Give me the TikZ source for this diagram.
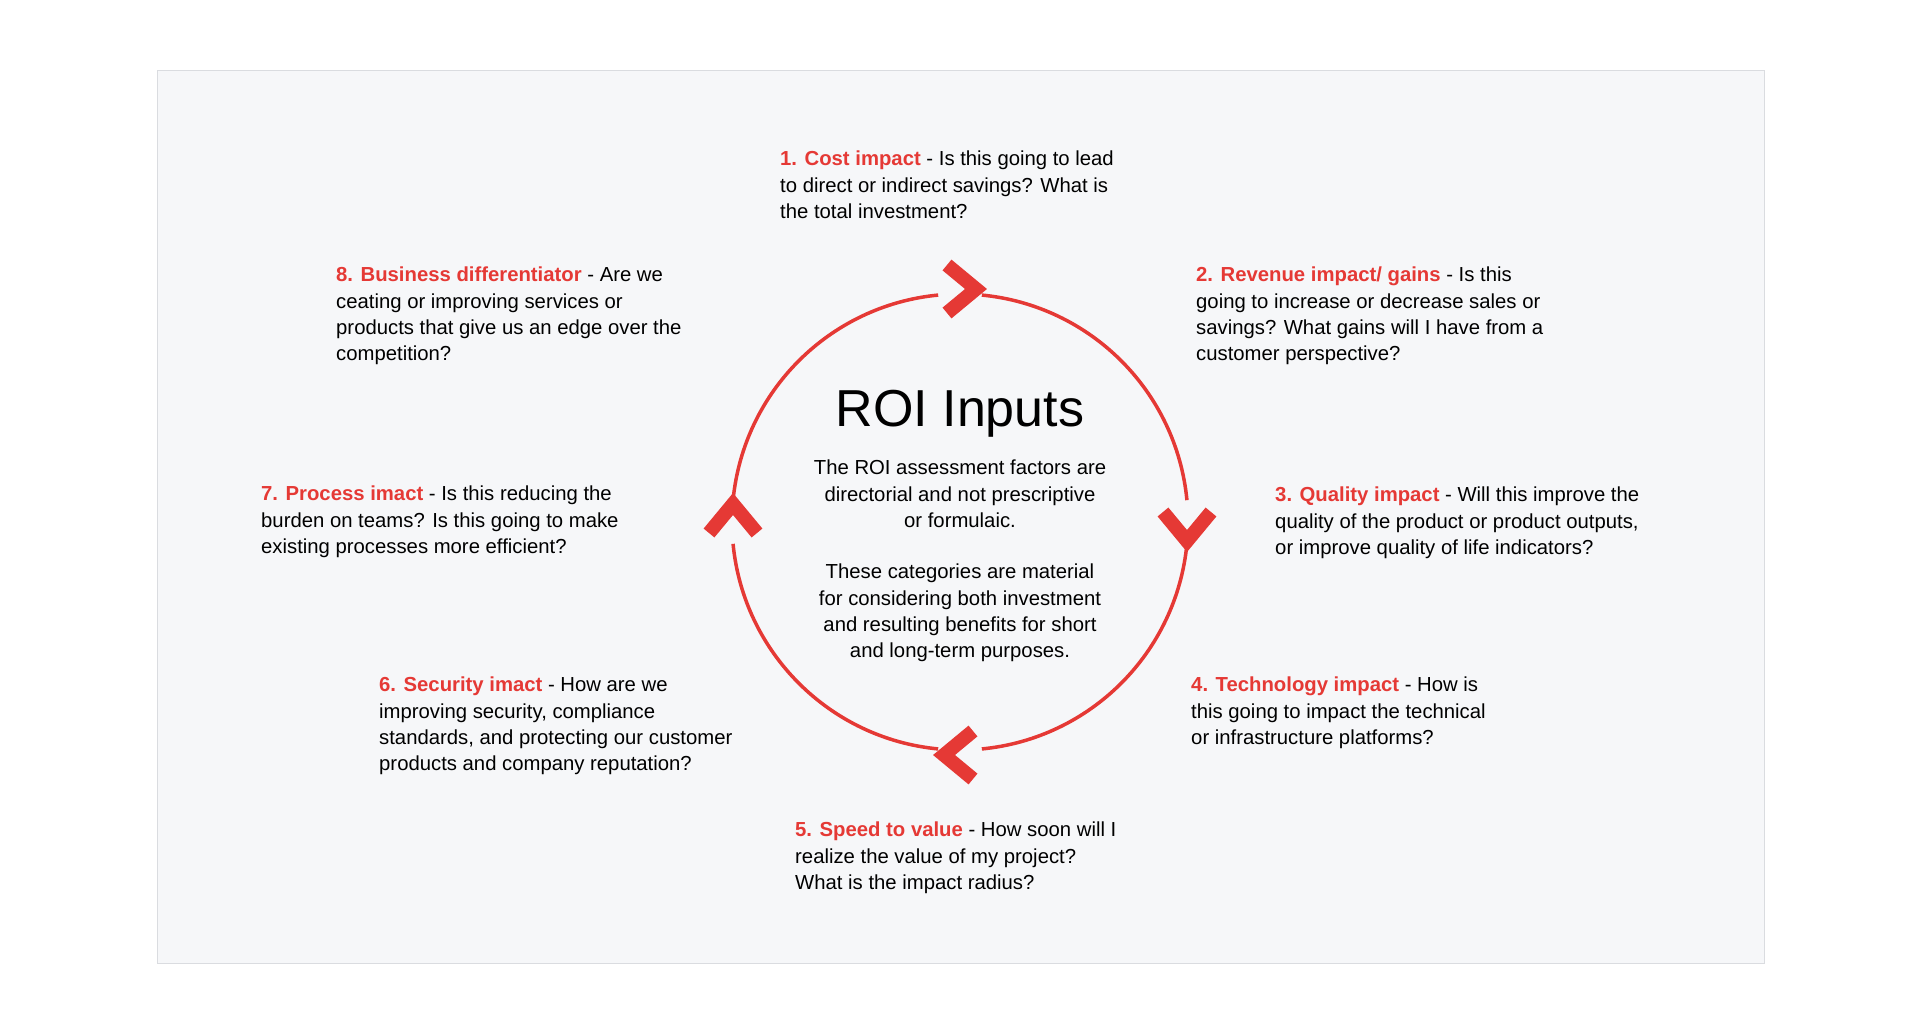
\documentclass[tikz,border=0pt]{standalone}
\usepackage{fontspec}
\setmainfont{Liberation Sans}
\usetikzlibrary{calc}
\definecolor{roired}{HTML}{E53935}
\definecolor{panelbg}{HTML}{F6F7F9}
\definecolor{panelline}{HTML}{DADCE0}
\newcommand{\lbl}[1]{\textcolor{roired}{\bfseries #1}}
\begin{document}
\begin{tikzpicture}[x=1pt,y=-1pt,
  item/.style={anchor=north west,align=left,inner sep=0pt,font=\fontsize{20.3}{26.3}\selectfont},
  body/.style={align=center,inner sep=0pt,font=\fontsize{20.3}{26.3}\selectfont},
  ring/.style={roired,line width=3.5pt},
  chev/.style={roired,line width=14pt,line join=miter,miter limit=10}]
  \useasboundingbox (0,0) rectangle (1920,1033);
  \fill[white] (0,0) rectangle (1920,1033);
  \draw[panelline,fill=panelbg] (157,70) rectangle (1764,963);

  % ring with gaps at the chevrons
  \coordinate (c) at (960,522);
  \foreach \a in {0,90,180,270}
    \draw[ring] ($(c)+(\a+5.5:228)$) arc[start angle=\a+5.5,end angle=\a+84.5,radius=228];
  \draw[chev] (947,265) -- (976,289) -- (947,313);
  \draw[chev] (1163,512) -- (1187,541) -- (1211,512);
  \draw[chev] (973,731) -- (944,755) -- (973,779);
  \draw[chev] (709,533) -- (733,504) -- (757,533);

  \node[font=\fontsize{52}{60}\selectfont] (title) at (960,414) {ROI Inputs};
  \node[body,anchor=north] (note1) at (960,460) {The ROI assessment factors are\\directorial and not prescriptive\\or formulaic.};
  \node[body,anchor=north] (note2) at (960,564) {These categories are material\\for considering both investment\\and resulting benefits for short\\and long-term purposes.};

  \node[item] (cost) at (780,151) {\lbl{1. Cost impact} - Is this going to lead\\to direct or indirect savings? What is\\the total investment?};
  \node[item] (revenue) at (1196,267) {\lbl{2. Revenue impact/ gains} - Is this\\going to increase or decrease sales or\\savings? What gains will I have from a\\customer perspective?};
  \node[item] (quality) at (1275,487) {\lbl{3. Quality impact} - Will this improve the\\quality of the product or product outputs,\\or improve quality of life indicators?};
  \node[item] (tech) at (1191,677) {\lbl{4. Technology impact} - How is\\this going to impact the technical\\or infrastructure platforms?};
  \node[item] (speed) at (795,822) {\lbl{5. Speed to value} - How soon will I\\realize the value of my project?\\What is the impact radius?};
  \node[item] (security) at (379,677) {\lbl{6. Security imact} - How are we\\improving security, compliance\\standards, and protecting our customer\\products and company reputation?};
  \node[item] (process) at (261,486) {\lbl{7. Process imact} - Is this reducing the\\burden on teams? Is this going to make\\existing processes more efficient?};
  \node[item] (business) at (336,267) {\lbl{8. Business differentiator} - Are we\\ceating or improving services or\\products that give us an edge over the\\competition?};
\end{tikzpicture}
\end{document}
